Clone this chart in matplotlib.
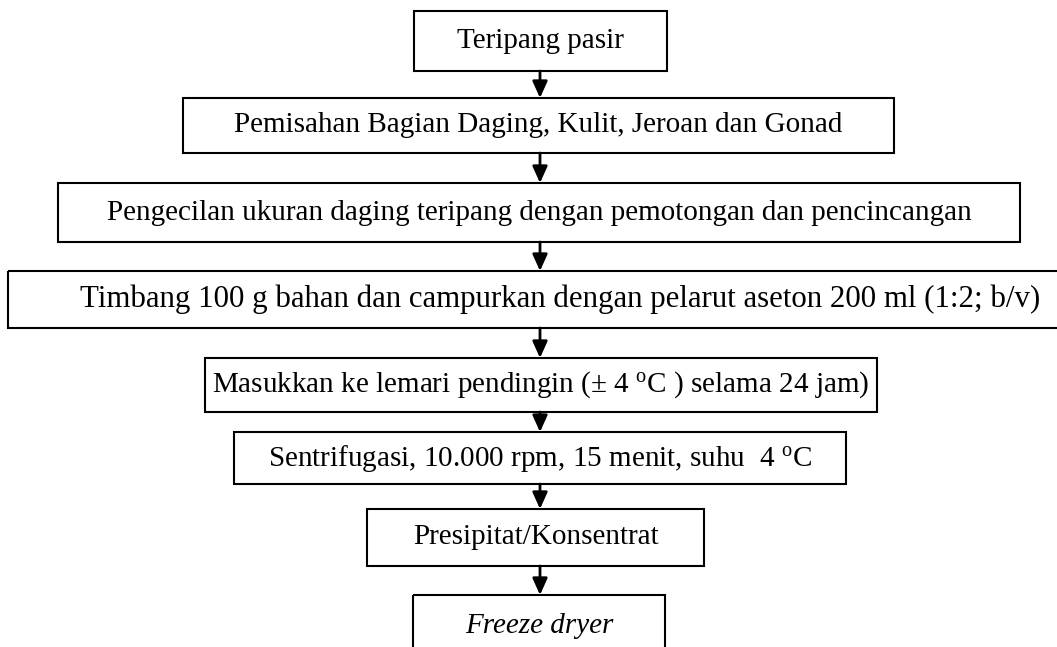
import matplotlib
matplotlib.use("Agg")
import matplotlib.pyplot as plt
from matplotlib.patches import Rectangle

plt.rcParams['font.family'] = ['Liberation Serif', 'DejaVu Serif']
plt.rcParams['mathtext.fontset'] = 'custom'
plt.rcParams['mathtext.rm'] = 'Liberation Serif'
plt.rcParams['mathtext.it'] = 'Liberation Serif:italic'

# flowchart steps
steps = [
    "Teripang pasir",
    "Pemisahan Bagian Daging, Kulit, Jeroan dan Gonad",
    "Pengecilan ukuran daging teripang dengan pemotongan dan pencincangan",
    "Timbang 100 g bahan dan campurkan dengan pelarut aseton 200 ml (1:2; b/v)",
    r"Masukkan ke lemari pendingin ($\pm$ 4 $^{\mathrm{o}}$C ) selama 24 jam)",
    r"Sentrifugasi, 10.000 rpm, 15 menit, suhu  4 $^{\mathrm{o}}$C",
    "Presipitat/Konsentrat",
    "Freeze dryer",
]
italic = [False, False, False, False, False, False, False, True]

# box layout in pixels: left, right, top, bottom
boxes = [
    (414, 667, 11, 71),
    (183, 894, 98, 153),
    (58, 1020, 183, 242),
    (8, 1112, 271, 328),
    (205, 877, 358, 412),
    (234, 846, 432, 484),
    (367, 704, 509, 566),
    (413, 665, 595, 655),
]
sizes = [21, 21, 21, 22.2, 21, 21, 21, 21]

fig = plt.figure(figsize=(10.57, 6.47), dpi=100)
ax = fig.add_axes([0, 0, 1, 1])
ax.set_xlim(0, 1057)
ax.set_ylim(647, 0)
ax.axis('off')

cx = 540
for i, (label, (x0, x1, y0, y1)) in enumerate(zip(steps, boxes)):
    ax.add_patch(Rectangle((x0, y0), x1 - x0, y1 - y0, fill=False,
                           edgecolor='black', linewidth=1.5))
    yc = (y0 + y1) / 2 if i < len(steps) - 1 else 626
    ax.text((x0 + x1) / 2, yc, label, ha='center', va='center',
            fontsize=sizes[i], style='italic' if italic[i] else 'normal')
    if i < len(steps) - 1:
        nxt = boxes[i + 1][2]
        ax.annotate('', xy=(cx, nxt), xytext=(cx, y1),
                    arrowprops=dict(arrowstyle='-|>,head_width=0.45,head_length=1.0',
                                    color='black', lw=2,
                                    shrinkA=0, shrinkB=0))

fig.savefig('out.png', dpi=100)
